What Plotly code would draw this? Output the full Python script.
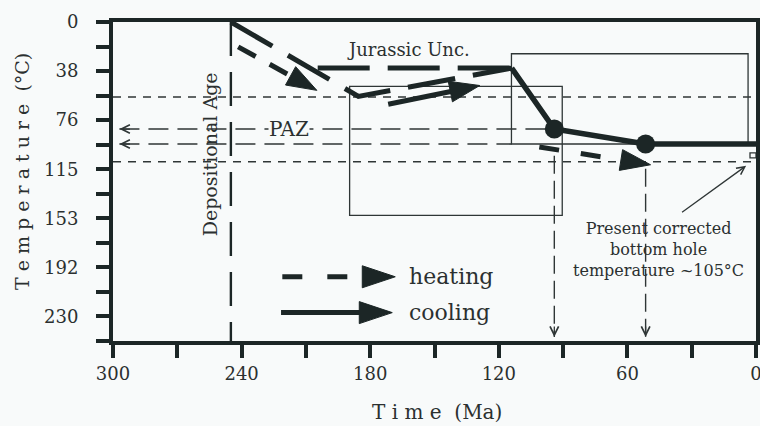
import math
import plotly.graph_objects as go

# ---------------- data ----------------
time_ticks = [300, 270, 240, 210, 180, 150, 120, 90, 60, 30, 0]
time_labels = ['300', '', '240', '', '180', '', '120', '', '60', '', '0']
temp_ticks = [0, 19.17, 38.33, 57.5, 76.67, 95.83, 115, 134.17, 153.33,
              172.5, 191.67, 210.83, 230, 249.17]
temp_labels = ['0', '', '38', '', '76', '', '115', '', '153', '', '192', '', '230', '']

depositional_age = 245.0

# heating path (dashed, thick)
heat_time = [245.0, 185.5, 114.0]
heat_temp = [0.0, 58.1, 36.0]
# Jurassic unconformity path (dashed, thick)
unc_time = [204.5, 114.0]
unc_temp = [36.0, 36.0]
# cooling / final path (solid, thick)
cool_time = [114.0, 94.1, 51.5, 0.0]
cool_temp = [36.0, 83.6, 95.3, 95.3]
# constrained points
dot_time = [94.1, 51.5]
dot_temp = [83.6, 95.3]

# short-dash reference isotherms
ref_temps = [58.6, 109.2]
# PAZ projection lines (to temperature axis) and their right ends
paz_temps = [83.6, 95.3]
paz_ends = [94.1, 114.0]
# time projection lines (to time axis): start temperatures
proj_time = [94.1, 51.5]
proj_start = [104.5, 114.6]

# constraint boxes: [t_old, t_young], [T_top, T_bottom]
box1_time = [189.6, 90.4]
box1_temp = [50.3, 151.0]
box2_time = [114.1, 3.7]
box2_temp = [24.8, 95.3]
# present bottom-hole temperature marker
bht_time = [2.8, 0.0]
bht_temp = [102.2, 106.1]

# direction arrows (tail, tip)
arrow_heat1 = [(241.6, 19.4), (204.9, 53.4)]
arrow_cool = [(171.6, 64.3), (128.9, 49.6)]
arrow_heat2 = [(101.1, 97.6), (49.2, 111.5)]

# ---------------- layout constants ----------------
W, H = 760, 426
ML, MR, MT, MB = 113, 4, 22, 85
PW, PH = W - ML - MR, H - MT - MB
XR = [300, 0]
YR = [249.17, 0]
SX = PW / 300.0
SY = PH / 249.17

INK = '#1c2626'
THIN = '#2f3636'
TXT = '#2b3030'
BG = '#f8fafa'
FONT = 'DejaVu Serif'


def head(tail, tip, L=28, Wd=20):
    dxs = -(tip[0] - tail[0]) * SX
    dys = (tip[1] - tail[1]) * SY
    n = math.hypot(dxs, dys)
    ux, uy = dxs / n, dys / n
    nx, ny = -uy, ux
    pts = [(-L * ux + Wd / 2 * nx, -L * uy + Wd / 2 * ny), (0, 0),
           (-L * ux - Wd / 2 * nx, -L * uy - Wd / 2 * ny)]
    xs = [tip[0] - ox / SX for ox, oy in pts]
    ys = [tip[1] + oy / SY for ox, oy in pts]
    base = (tip[0] + (L - 3) * ux / SX, tip[1] - (L - 3) * uy / SY)
    return xs + [xs[0]], ys + [ys[0]], base


fig = go.Figure()


def line(x, y, width, dash='solid', color=INK):
    fig.add_trace(go.Scatter(x=x, y=y, mode='lines', showlegend=False,
                             hoverinfo='skip',
                             line=dict(color=color, width=width, dash=dash)))


def tri(xs, ys):
    fig.add_trace(go.Scatter(x=xs, y=ys, mode='lines', fill='toself',
                             fillcolor=INK, showlegend=False, hoverinfo='skip',
                             line=dict(color=INK, width=1)))


# reference isotherms
for t in ref_temps:
    line([XR[0], XR[1]], [t, t], 1.5, '8px,7px', THIN)

# PAZ projections
for t, e in zip(paz_temps, paz_ends):
    line([297, e], [t, t], 1.6, '20px,9px', THIN)

# time projections
for tm, s in zip(proj_time, proj_start):
    line([tm, tm], [s, 246], 1.4, '18px,7px', THIN)

# depositional age
line([depositional_age, depositional_age], [0, YR[0]], 2.4, '34px,16px', INK)

# boxes
for bt, bT in [(box1_time, box1_temp), (box2_time, box2_temp), (bht_time, bht_temp)]:
    fig.add_shape(type='rect', x0=bt[0], x1=bt[1], y0=bT[0], y1=bT[1],
                  line=dict(color=THIN, width=1.3), layer='below')

# main paths
line(heat_time, heat_temp, 5, '48px,18px')
line(unc_time, unc_temp, 5, '52px,18px')
line(cool_time, cool_temp, 5.5)
fig.add_trace(go.Scatter(x=dot_time, y=dot_temp, mode='markers', showlegend=False,
                         hoverinfo='skip', marker=dict(color=INK, size=19)))

# direction arrows
for (tail, tip), dash in [(arrow_heat1, '20px,16px'), (arrow_cool, 'solid'),
                          (arrow_heat2, '20px,22px')]:
    xs, ys, base = head(tail, tip, L=30, Wd=21)
    line([tail[0], base[0]], [tail[1], base[1]], 5, dash)
    tri(xs, ys)

# legend (custom)
LEG = [('heating', '20px,25px', (221.0, 199.0), (168.3, 199.0)),
       ('cooling', 'solid', (221.6, 227.0), (169.7, 227.0))]
for name, dash, tail, tip in LEG:
    xs, ys, base = head(tail, tip, L=33, Wd=22)
    line([tail[0], base[0]], [tail[1], base[1]], 5, dash)
    tri(xs, ys)
    fig.add_annotation(x=162.8, y=tail[1], text=name, showarrow=False,
                       xanchor='left', yanchor='middle',
                       font=dict(family=FONT, size=22, color=TXT))

# text annotations
fig.add_annotation(x=162.3, y=21.7, text='Jurassic Unc.', showarrow=False,
                   font=dict(family=FONT, size=18, color=TXT))
fig.add_annotation(x=217.9, y=83.6, text='PAZ', showarrow=False, bgcolor=BG,
                   borderpad=0, font=dict(family=FONT, size=20, color=TXT))
fig.add_annotation(x=255.0, y=103.0, text='Depositional Age', showarrow=False,
                   textangle=-90, font=dict(family=FONT, size=19, color=TXT))
fig.add_annotation(x=45.4, y=177.7,
                   text='Present corrected<br>bottom hole<br>temperature ~105°C',
                   showarrow=False, align='center',
                   font=dict(family=FONT, size=16, color=TXT))

# thin arrowheads
for t in paz_temps:
    fig.add_annotation(x=297, y=t, ax=12, ay=0, text='', showarrow=True,
                       arrowhead=5, arrowsize=1.3, arrowwidth=1.3, arrowcolor=THIN)
for tm in proj_time:
    fig.add_annotation(x=tm, y=246, ax=0, ay=-12, text='', showarrow=True,
                       arrowhead=5, arrowsize=1.3, arrowwidth=1.3, arrowcolor=THIN)
fig.add_annotation(x=4.6, y=112.3, ax=35.2, ay=149.5, axref='x', ayref='y',
                   text='', showarrow=True, arrowhead=5, arrowsize=1.2,
                   arrowwidth=1.3, arrowcolor=THIN)

# axis titles
fig.add_annotation(xref='paper', yref='paper', x=(22 - ML) / PW,
                   y=1 - (172 - MT) / PH, text='T e m p e r a t u r e  (°C)',
                   textangle=-90, showarrow=False, xanchor='center', yanchor='middle',
                   font=dict(family=FONT, size=19, color=TXT))
fig.add_annotation(xref='paper', yref='paper', x=(437 - ML) / PW,
                   y=-(412 - (H - MB)) / PH, text='T i m e  (Ma)',
                   showarrow=False, xanchor='center', yanchor='middle',
                   font=dict(family=FONT, size=20, color=TXT))

axis_common = dict(showgrid=False, zeroline=False, showline=True, linewidth=4,
                   linecolor=INK, mirror=True, ticks='outside', ticklen=13,
                   tickwidth=3.5, tickcolor=INK, automargin=False,
                   ticklabeloverflow='allow',
                   tickfont=dict(family=FONT, size=18, color=TXT))
fig.update_xaxes(range=XR, tickmode='array', tickvals=time_ticks,
                 ticktext=time_labels, ticklabelstandoff=0, **axis_common)
fig.update_yaxes(range=YR, tickmode='array', tickvals=temp_ticks,
                 ticktext=temp_labels, ticklabelstandoff=14, **axis_common)

fig.update_layout(width=W, height=H, margin=dict(l=ML, r=MR, t=MT, b=MB),
                  paper_bgcolor=BG, plot_bgcolor=BG, hovermode=False,
                  showlegend=False)

fig.write_html('out.html', config={'displayModeBar': False})
